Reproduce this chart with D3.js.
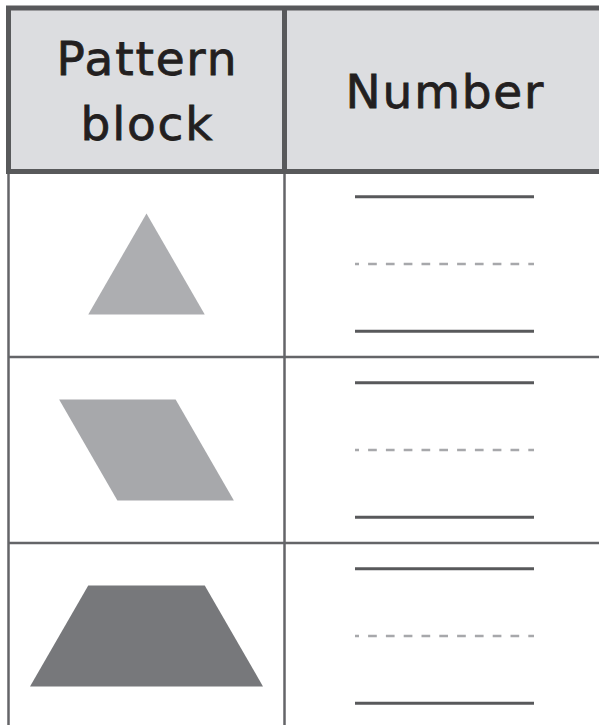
<!DOCTYPE html>
<html><head><meta charset="utf-8">
<script src="https://cdn.jsdelivr.net/npm/d3@7"></script>
<style>html,body{margin:0;padding:0;background:#fff;}svg{display:block;}</style>
</head><body>
<script>
// ---- data ----
const headers = [["Pattern", "block"], ["Number"]];
const blocks = ["triangle", "rhombus", "trapezoid"];
const blockColors = ["#adaeb1", "#a7a8ab", "#77787b"];
// pattern-block outlines in unit side lengths (side = 1)
const H = Math.sqrt(3) / 2;
const blockShapes = {
  triangle:  [[-0.5, H/2], [0, -H/2], [0.5, H/2]],
  rhombus:   [[-0.75, -H/2], [0.25, -H/2], [0.75, H/2], [-0.25, H/2]],
  trapezoid: [[-0.5, -H/2], [0.5, -H/2], [1, H/2], [-1, H/2]]
};
const answerGuides = ["solid", "dashed", "solid"];

// ---- layout ----
const W = 599, HH = 725;
const svg = d3.select("body").append("svg").attr("width", W).attr("height", HH);

const x = d3.scaleOrdinal().domain([0, 1]).range([8.5, 284.5]);
const colW = [276, 320];
const headerTop = 8, headerBottom = 171.5;
const y = d3.scaleBand().domain(blocks).range([171, 729]);
const unit = d3.scaleLinear().domain([0, 1]).range([0, 116.5]);
const guideY = d3.scalePoint().domain(answerGuides.map((d, i) => i)).range([-67.3, 67.3]);

const dark = "#58595b", line = "#646568";

// header background
svg.append("rect").attr("x", x(0)).attr("y", headerTop)
  .attr("width", colW[0] + colW[1]).attr("height", headerBottom - headerTop)
  .attr("fill", "#dcdde0");

// body grid lines
blocks.forEach((b, i) => {
  if (i > 0) svg.append("line").attr("x1", x(0)).attr("x2", W + 10)
    .attr("y1", y(b)).attr("y2", y(b)).attr("stroke", line).attr("stroke-width", 2.5);
});
[0, 1].forEach(c => {
  svg.append("line").attr("x1", x(c)).attr("x2", x(c))
    .attr("y1", headerBottom).attr("y2", HH + 10)
    .attr("stroke", line).attr("stroke-width", 2.5);
});

// header borders
svg.append("rect").attr("x", x(0)).attr("y", headerTop)
  .attr("width", colW[0] + colW[1]).attr("height", headerBottom - headerTop)
  .attr("fill", "none").attr("stroke", dark).attr("stroke-width", 5);
svg.append("line").attr("x1", x(1)).attr("x2", x(1))
  .attr("y1", headerTop).attr("y2", headerBottom)
  .attr("stroke", dark).attr("stroke-width", 5);

// header text
const hc = (headerTop + headerBottom) / 2;
const ls = 1.8;
headers.forEach((lines, c) => {
  const t = svg.append("text").attr("text-anchor", "middle")
    .attr("font-family", "'DejaVu Sans', sans-serif")
    .attr("font-size", 47).attr("letter-spacing", ls).attr("fill", "#231f20")
    .attr("stroke", "#231f20").attr("stroke-width", 0.8);
  const lh = 65;
  lines.forEach((s, k) => {
    t.append("tspan").attr("x", x(c) + colW[c] / 2 + ls / 2)
      .attr("y", hc + 18 + (k - (lines.length - 1) / 2) * lh)
      .text(s);
  });
});

// pattern blocks
const cx0 = x(0) + colW[0] / 2;
blocks.forEach((b, i) => {
  const cy = y(b) + y.bandwidth() / 2;
  const pts = blockShapes[b].map(([u, v]) => [cx0 + unit(u), cy + unit(v)]);
  svg.append("path").attr("d", d3.line()(pts) + "Z").attr("fill", blockColors[i]);
});

// answer lines
const cx1 = x(1) + colW[1] / 2, halfLen = 89.5;
blocks.forEach(b => {
  const cy = y(b) + y.bandwidth() / 2;
  answerGuides.forEach((g, k) => {
    const l = svg.append("line").attr("x1", cx1 - halfLen).attr("x2", cx1 + halfLen)
      .attr("y1", cy + guideY(k)).attr("y2", cy + guideY(k));
    if (g === "solid") l.attr("stroke", dark).attr("stroke-width", 3);
    else l.attr("stroke", "#a7a8ab").attr("stroke-width", 2.5)
      .attr("stroke-dasharray", "8.7,9.1").attr("stroke-dashoffset", 4.7);
  });
});
</script>
</body></html>
